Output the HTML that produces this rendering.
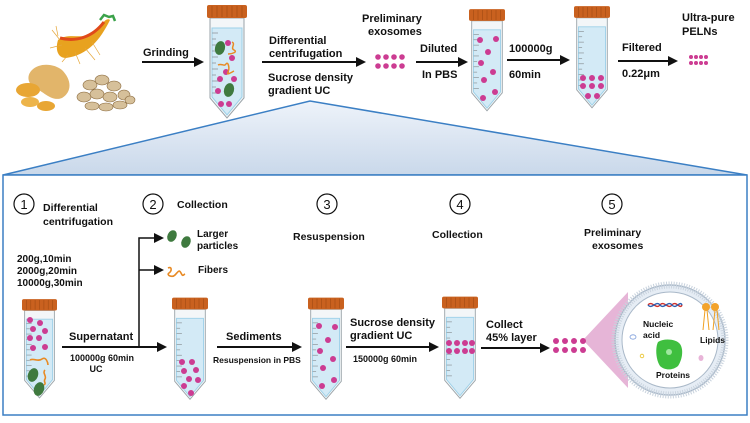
<!DOCTYPE html>
<html><head><meta charset="utf-8"><style>
body{margin:0;background:#fff}
svg text{font-family:"Liberation Sans",sans-serif;font-weight:bold;fill:#111}
</style></head><body>
<svg width="750" height="418" viewBox="0 0 750 418" xmlns="http://www.w3.org/2000/svg">
<defs>
<linearGradient id="tg" x1="0" y1="0" x2="0" y2="1"><stop offset="0" stop-color="#eef3fa"/><stop offset="1" stop-color="#c9d8ea"/></linearGradient>
<marker id="ar" markerWidth="10" markerHeight="10" refX="8" refY="5" orient="auto" markerUnits="userSpaceOnUse"><path d="M0,0 L10,5 L0,10Z" fill="#111"/></marker>
<symbol id="tube" viewBox="0 0 40 113" overflow="visible">
<path d="M3,13 L37,13 L37,93 L20,113 L3,93Z" fill="#f3f6f8" stroke="#9aa3a8" stroke-width="1"/>
<path d="M5,23 L35,23 L35,92 L20,110 L5,92Z" fill="#d3eaf6" stroke="#9bd0e8" stroke-width="1"/>
<g stroke="#8f979b" stroke-width="0.8">
<line x1="5" y1="28" x2="11" y2="28"/><line x1="5" y1="34" x2="9" y2="34"/><line x1="5" y1="40" x2="11" y2="40"/><line x1="5" y1="46" x2="9" y2="46"/><line x1="5" y1="52" x2="11" y2="52"/><line x1="5" y1="58" x2="9" y2="58"/><line x1="5" y1="64" x2="11" y2="64"/><line x1="5" y1="70" x2="9" y2="70"/><line x1="5" y1="76" x2="11" y2="76"/><line x1="5" y1="82" x2="9" y2="82"/><line x1="5" y1="88" x2="11" y2="88"/></g>
<rect x="0" y="0" width="40" height="13" rx="2" fill="#c9611f"/>
<g stroke="#a84e15" stroke-width="0.8"><line x1="5" y1="1" x2="5" y2="12"/><line x1="10" y1="1" x2="10" y2="12"/><line x1="15" y1="1" x2="15" y2="12"/><line x1="20" y1="1" x2="20" y2="12"/><line x1="25" y1="1" x2="25" y2="12"/><line x1="30" y1="1" x2="30" y2="12"/><line x1="35" y1="1" x2="35" y2="12"/></g>
</symbol>
</defs>

<!-- trapezoid -->
<polygon points="3,175 310,101 747,175" fill="url(#tg)" stroke="#3b7fc4" stroke-width="1.5"/>
<rect x="3" y="175" width="744" height="240" fill="#fff" stroke="#3b7fc4" stroke-width="1.5"/>

<!-- plants -->
<path d="M58,40 C70,30 90,45 102,25 C104,20 108,18 110,20 C100,40 88,55 66,58 C58,58 55,50 58,40Z" fill="#e8a21f"/>
<path d="M60,38 C75,42 92,38 104,22" stroke="#e04a1a" stroke-width="3" fill="none"/>
<g stroke="#e6a73a" stroke-width="0.7" fill="none"><path d="M60,40 L52,30 M62,45 L50,48 M68,55 L62,62 M75,52 L80,64 M85,48 L95,60 M92,42 L100,55 M58,36 L56,26"/></g>
<path d="M100,20 l4,-5 l5,2 l4,-1 l2,5" stroke="#3ba24a" stroke-width="2.5" fill="none"/>
<path d="M32,70 C40,62 55,64 62,70 C72,80 72,92 62,98 C52,102 44,92 35,88 C28,84 26,76 32,70Z" fill="#e2b56a"/>
<ellipse cx="28" cy="90" rx="12" ry="7" fill="#e8a634"/><ellipse cx="46" cy="106" rx="9" ry="5" fill="#e8a634"/><ellipse cx="30" cy="102" rx="9" ry="5" fill="#edb44a"/>
<g fill="#d6c09a" stroke="#8a6a3e" stroke-width="0.6">
<ellipse cx="90" cy="85" rx="7" ry="5"/><ellipse cx="102" cy="80" rx="7" ry="5"/><ellipse cx="114" cy="86" rx="7" ry="5"/><ellipse cx="84" cy="97" rx="7" ry="5"/><ellipse cx="97" cy="94" rx="7" ry="5"/><ellipse cx="110" cy="97" rx="7" ry="5"/><ellipse cx="124" cy="95" rx="6" ry="5"/><ellipse cx="92" cy="106" rx="7" ry="4"/><ellipse cx="106" cy="107" rx="7" ry="4"/><ellipse cx="120" cy="105" rx="7" ry="4"/><ellipse cx="130" cy="100" rx="5" ry="4"/></g>

<!-- top row -->
<text x="143" y="56" font-size="11">Grinding</text>
<line x1="142" y1="62" x2="202" y2="62" stroke="#111" stroke-width="2" marker-end="url(#ar)"/>
<use href="#tube" x="207" y="5" width="40" height="113"/>
<g fill="#cc3c92"><circle cx="228" cy="43" r="3"/><circle cx="232" cy="58" r="3"/><circle cx="226" cy="72" r="3"/><circle cx="220" cy="79" r="3"/><circle cx="234" cy="79" r="3"/><circle cx="218" cy="91" r="3"/><circle cx="221" cy="104" r="3"/><circle cx="229" cy="104" r="3"/></g>
<g fill="#3f7a3f"><ellipse cx="220" cy="48" rx="5" ry="7" transform="rotate(15 220 48)"/><ellipse cx="229" cy="90" rx="5" ry="7" transform="rotate(15 229 90)"/></g>
<g stroke="#e88a24" stroke-width="1.5" fill="none"><path d="M232,42 c4,2 -2,6 2,8 s-2,4 -6,4"/><path d="M218,65 c4,-2 6,2 8,-1 s4,4 2,8 s4,0 6,-1"/></g>
<text x="269" y="44" font-size="11">Differential</text>
<text x="269" y="57" font-size="11">centrifugation</text>
<line x1="262" y1="62" x2="364" y2="62" stroke="#111" stroke-width="2" marker-end="url(#ar)"/>
<text x="268" y="81" font-size="11">Sucrose density</text>
<text x="268" y="94" font-size="11">gradient UC</text>
<text x="362" y="22" font-size="11">Preliminary</text>
<text x="368" y="35" font-size="11">exosomes</text>
<g fill="#cc3c92"><circle cx="378" cy="57" r="2.8"/><circle cx="386" cy="57" r="2.8"/><circle cx="394" cy="57" r="2.8"/><circle cx="402" cy="57" r="2.8"/><circle cx="378" cy="66" r="2.8"/><circle cx="386" cy="66" r="2.8"/><circle cx="394" cy="66" r="2.8"/><circle cx="402" cy="66" r="2.8"/></g>
<text x="420" y="52" font-size="11">Diluted</text>
<text x="422" y="78" font-size="11">In PBS</text>
<line x1="416" y1="62" x2="466" y2="62" stroke="#111" stroke-width="2" marker-end="url(#ar)"/>
<use href="#tube" x="469" y="4" width="36" height="112"/>
<g fill="#cc3c92"><circle cx="480" cy="40" r="3"/><circle cx="496" cy="39" r="3"/><circle cx="488" cy="52" r="3"/><circle cx="481" cy="63" r="3"/><circle cx="493" cy="72" r="3"/><circle cx="484" cy="80" r="3"/><circle cx="495" cy="92" r="3"/><circle cx="483" cy="98" r="3"/></g>
<text x="509" y="52" font-size="11">100000g</text>
<text x="509" y="78" font-size="11">60min</text>
<line x1="507" y1="60" x2="568" y2="60" stroke="#111" stroke-width="2" marker-end="url(#ar)"/>
<use href="#tube" x="574" y="1" width="36" height="112"/>
<g fill="#cc3c92"><circle cx="583" cy="78" r="3"/><circle cx="592" cy="78" r="3"/><circle cx="601" cy="78" r="3"/><circle cx="583" cy="86" r="3"/><circle cx="592" cy="86" r="3"/><circle cx="601" cy="86" r="3"/><circle cx="588" cy="96" r="3"/><circle cx="597" cy="96" r="3"/></g>
<text x="622" y="51" font-size="11">Filtered</text>
<text x="622" y="77" font-size="11">0.22μm</text>
<line x1="618" y1="61" x2="676" y2="61" stroke="#111" stroke-width="2" marker-end="url(#ar)"/>
<text x="682" y="21" font-size="11">Ultra-pure</text>
<text x="682" y="35" font-size="11">PELNs</text>
<g fill="#cc3c92"><circle cx="691" cy="57" r="2"/><circle cx="696" cy="57" r="2"/><circle cx="701" cy="57" r="2"/><circle cx="706" cy="57" r="2"/><circle cx="691" cy="63" r="2"/><circle cx="696" cy="63" r="2"/><circle cx="701" cy="63" r="2"/><circle cx="706" cy="63" r="2"/></g>

<!-- step headers -->
<g fill="none" stroke="#111" stroke-width="1.2"><circle cx="24" cy="204" r="10"/><circle cx="153" cy="204" r="10"/><circle cx="327" cy="204" r="10"/><circle cx="460" cy="204" r="10"/><circle cx="612" cy="204" r="10"/></g>
<g font-size="13" text-anchor="middle" style="font-weight:normal"><text x="24" y="209" style="font-weight:normal">1</text><text x="153" y="209" style="font-weight:normal">2</text><text x="327" y="209" style="font-weight:normal">3</text><text x="460" y="209" style="font-weight:normal">4</text><text x="612" y="209" style="font-weight:normal">5</text></g>
<text x="43" y="211" font-size="10.5">Differential</text>
<text x="43" y="225" font-size="10.5">centrifugation</text>
<text x="177" y="208" font-size="10.5">Collection</text>
<text x="293" y="240" font-size="10.5">Resuspension</text>
<text x="432" y="238" font-size="10.5">Collection</text>
<text x="584" y="236" font-size="10.5">Preliminary</text>
<text x="592" y="249" font-size="10.5">exosomes</text>
<text x="17" y="262" font-size="10">200g,10min</text>
<text x="17" y="274" font-size="10">2000g,20min</text>
<text x="17" y="286" font-size="10">10000g,30min</text>

<!-- branch -->
<path d="M139,347 L139,238 L162,238" stroke="#111" stroke-width="1.5" fill="none" marker-end="url(#ar)"/>
<path d="M139,270 L162,270" stroke="#111" stroke-width="1.5" fill="none" marker-end="url(#ar)"/>
<g fill="#3f7a3f"><ellipse cx="172" cy="236" rx="4.5" ry="6" transform="rotate(25 172 236)"/><ellipse cx="186" cy="242" rx="4.5" ry="6" transform="rotate(25 186 242)"/></g>
<text x="197" y="237" font-size="10">Larger</text>
<text x="197" y="249" font-size="10">particles</text>
<path d="M168,268 c4,-2 4,3 1,5 s3,5 6,2 s4,-6 6,-2 s2,2 4,1" stroke="#e88a24" stroke-width="1.6" fill="none"/>
<text x="198" y="273" font-size="10">Fibers</text>

<!-- bottom row -->
<use href="#tube" x="22" y="292" width="35" height="113"/>
<g fill="#cc3c92"><circle cx="30" cy="320" r="3"/><circle cx="40" cy="323" r="3"/><circle cx="33" cy="329" r="3"/><circle cx="45" cy="331" r="3"/><circle cx="30" cy="338" r="3"/><circle cx="39" cy="338" r="3"/><circle cx="33" cy="348" r="3"/><circle cx="45" cy="347" r="3"/></g>
<g fill="#3f7a3f"><ellipse cx="33" cy="375" rx="5" ry="7" transform="rotate(20 33 375)"/><ellipse cx="39" cy="389" rx="5" ry="7" transform="rotate(20 39 389)"/></g>
<path d="M30,360 c4,-2 8,2 12,-1 s6,4 6,6 M45,370 c-3,3 2,6 0,9 s2,4 -1,6" stroke="#e88a24" stroke-width="1.6" fill="none"/>
<text x="69" y="340" font-size="11">Supernatant</text>
<text x="70" y="361" font-size="9">100000g 60min</text>
<text x="96" y="372" font-size="9" text-anchor="middle">UC</text>
<line x1="62" y1="347" x2="165" y2="347" stroke="#111" stroke-width="2" marker-end="url(#ar)"/>
<use href="#tube" x="172" y="292" width="36" height="113"/>
<g fill="#cc3c92"><circle cx="182" cy="362" r="3"/><circle cx="192" cy="362" r="3"/><circle cx="184" cy="371" r="3"/><circle cx="196" cy="370" r="3"/><circle cx="189" cy="379" r="3"/><circle cx="198" cy="380" r="3"/><circle cx="184" cy="386" r="3"/><circle cx="191" cy="393" r="3"/></g>
<text x="226" y="340" font-size="11">Sediments</text>
<text x="213" y="363" font-size="8.5">Resuspension in PBS</text>
<line x1="217" y1="347" x2="300" y2="347" stroke="#111" stroke-width="2" marker-end="url(#ar)"/>
<use href="#tube" x="308" y="292" width="36" height="113"/>
<g fill="#cc3c92"><circle cx="319" cy="326" r="3"/><circle cx="335" cy="327" r="3"/><circle cx="328" cy="340" r="3"/><circle cx="320" cy="351" r="3"/><circle cx="333" cy="359" r="3"/><circle cx="323" cy="368" r="3"/><circle cx="334" cy="380" r="3"/><circle cx="322" cy="386" r="3"/></g>
<text x="350" y="326" font-size="11">Sucrose density</text>
<text x="350" y="339" font-size="11">gradient UC</text>
<text x="353" y="362" font-size="9">150000g 60min</text>
<line x1="346" y1="347" x2="437" y2="347" stroke="#111" stroke-width="2" marker-end="url(#ar)"/>
<use href="#tube" x="442" y="291" width="36" height="113"/>
<g fill="#cc3c92"><circle cx="449" cy="343" r="3"/><circle cx="457" cy="343" r="3"/><circle cx="465" cy="343" r="3"/><circle cx="472" cy="343" r="3"/><circle cx="449" cy="351" r="3"/><circle cx="457" cy="351" r="3"/><circle cx="465" cy="351" r="3"/><circle cx="472" cy="351" r="3"/></g>
<text x="486" y="328" font-size="11">Collect</text>
<text x="486" y="341" font-size="11">45% layer</text>
<line x1="481" y1="348" x2="548" y2="348" stroke="#111" stroke-width="2" marker-end="url(#ar)"/>
<polygon points="583,340 628,292 628,388" fill="#e2a8d0" opacity="0.85"/>
<g fill="#cc3c92"><circle cx="556" cy="341" r="3"/><circle cx="565" cy="341" r="3"/><circle cx="574" cy="341" r="3"/><circle cx="583" cy="341" r="3"/><circle cx="556" cy="350" r="3"/><circle cx="565" cy="350" r="3"/><circle cx="574" cy="350" r="3"/><circle cx="583" cy="350" r="3"/></g>
<circle cx="670" cy="340" r="55" fill="#e6edf5" stroke="#a9b8c8" stroke-width="1.5"/>
<circle cx="670" cy="340" r="55" fill="none" stroke="#c9d3de" stroke-width="7" stroke-dasharray="1 1.5"/>
<circle cx="670" cy="340" r="48" fill="#fff" stroke="#a9b8c8" stroke-width="1"/>
<path d="M648,305 c4,-5 8,5 12,0 s8,5 12,0 s8,5 10,0" stroke="#d0302a" stroke-width="1.4" fill="none"/>
<path d="M648,305 c4,5 8,-5 12,0 s8,-5 12,0 s8,-5 10,0" stroke="#2d5fb0" stroke-width="1.4" fill="none"/>
<text x="643" y="327" font-size="8.5">Nucleic</text>
<text x="643" y="338" font-size="8.5">acid</text>
<g stroke="#f0a020" stroke-width="1"><line x1="705" y1="310" x2="703" y2="330"/><line x1="707" y1="310" x2="709" y2="330"/><line x1="715" y1="310" x2="713" y2="330"/><line x1="717" y1="310" x2="719" y2="330"/></g>
<circle cx="706" cy="307" r="4" fill="#f3a32c"/><circle cx="715" cy="307" r="4" fill="#f3a32c"/>
<text x="700" y="343" font-size="8.5">Lipids</text>
<path d="M658,342 c6,-4 18,-3 22,2 c4,6 2,16 -2,22 c-6,5 -14,4 -18,0 c-4,-6 -5,-18 -2,-24Z" fill="#3fbf3f"/>
<circle cx="669" cy="352" r="3" fill="#9fe89f"/>
<text x="656" y="378" font-size="8.5">Proteins</text>
<ellipse cx="633" cy="337" rx="3" ry="2.2" fill="none" stroke="#7f9fdc" stroke-width="0.8"/>
<circle cx="642" cy="356" r="1.8" fill="none" stroke="#e8c020" stroke-width="0.8"/>
<ellipse cx="701" cy="358" rx="2.5" ry="3" fill="#e8b4d8"/>
</svg>
</body></html>
